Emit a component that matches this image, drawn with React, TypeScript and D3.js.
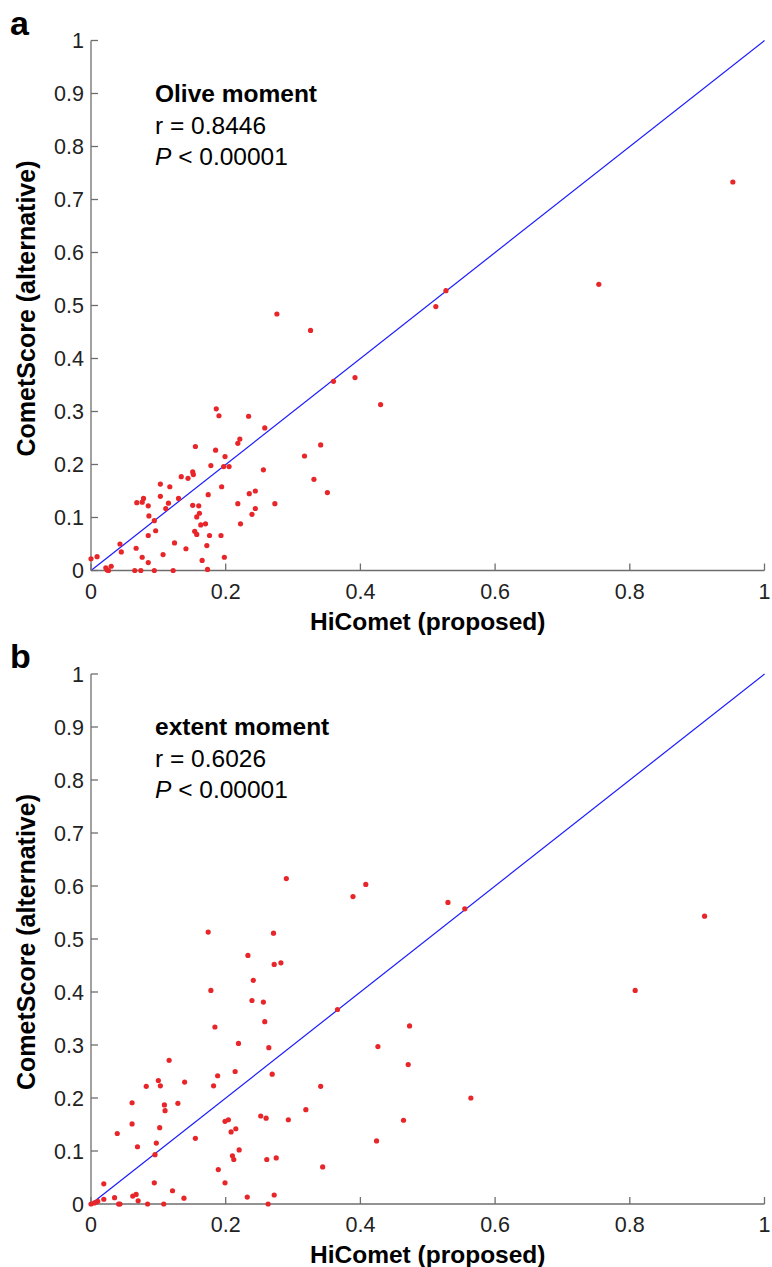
import * as d3 from 'd3';

// panel a: Olive moment
const aHiComet = [
  0.0, 0.009, 0.022, 0.026, 0.03, 0.024, 0.043, 0.045, 0.065, 0.067, 0.074, 0.076, 0.085, 0.094,
  0.068, 0.076, 0.078, 0.085, 0.086, 0.085, 0.094, 0.096, 0.103, 0.103, 0.107, 0.111, 0.115, 0.117,
  0.122, 0.124, 0.13, 0.134, 0.141, 0.144, 0.151, 0.152, 0.151, 0.155, 0.157, 0.16, 0.161, 0.154,
  0.157, 0.163, 0.165, 0.17, 0.174, 0.172, 0.173, 0.176, 0.178, 0.185, 0.186, 0.19, 0.194, 0.193,
  0.197, 0.199, 0.198, 0.205, 0.218, 0.221, 0.218, 0.222, 0.234, 0.235, 0.239, 0.244, 0.244, 0.256,
  0.258, 0.273, 0.276, 0.326, 0.36, 0.392, 0.43, 0.317, 0.341, 0.331, 0.351, 0.953, 0.754, 0.527,
  0.512,
];
const aCometScore = [
  0.022, 0.026, 0.005, 0.0, 0.008, 0.001, 0.05, 0.035, 0.0, 0.042, 0.0, 0.025, 0.015, 0.0,
  0.128, 0.129, 0.136, 0.122, 0.103, 0.066, 0.094, 0.075, 0.163, 0.14, 0.03, 0.117, 0.127, 0.158,
  0.0, 0.052, 0.136, 0.177, 0.041, 0.174, 0.186, 0.181, 0.123, 0.234, 0.101, 0.122, 0.108, 0.074,
  0.068, 0.086, 0.019, 0.088, 0.143, 0.047, 0.002, 0.066, 0.198, 0.227, 0.305, 0.292, 0.158, 0.066,
  0.196, 0.215, 0.025, 0.196, 0.24, 0.248, 0.126, 0.088, 0.291, 0.145, 0.106, 0.117, 0.15, 0.19,
  0.269, 0.126, 0.484, 0.453, 0.357, 0.364, 0.313, 0.216, 0.237, 0.172, 0.147, 0.733, 0.54, 0.528,
  0.498,
];

// panel b: extent moment
const bHiComet = [
  0.0, 0.005, 0.01, 0.019, 0.019, 0.035, 0.039, 0.041, 0.043, 0.061, 0.061, 0.062, 0.067, 0.069,
  0.07, 0.082, 0.084, 0.095, 0.094, 0.097, 0.1, 0.103, 0.102, 0.109, 0.11, 0.108, 0.116, 0.121,
  0.129, 0.138, 0.139, 0.155, 0.184, 0.182, 0.188, 0.189, 0.199, 0.199, 0.204, 0.208, 0.215, 0.214,
  0.219, 0.21, 0.212, 0.22, 0.232, 0.239, 0.256, 0.258, 0.264, 0.269, 0.252, 0.26, 0.261, 0.275,
  0.272, 0.263, 0.293, 0.29, 0.389, 0.408, 0.174, 0.271, 0.233, 0.272, 0.282, 0.241, 0.178, 0.366,
  0.53, 0.555, 0.911, 0.808, 0.473, 0.426, 0.471, 0.341, 0.319, 0.564, 0.464, 0.424, 0.344,
];
const bCometScore = [
  0.0, 0.002, 0.005, 0.038, 0.009, 0.012, 0.133, 0.0, 0.0, 0.191, 0.151, 0.015, 0.018, 0.108,
  0.006, 0.222, 0.0, 0.093, 0.04, 0.115, 0.233, 0.223, 0.144, 0.187, 0.176, 0.0, 0.271, 0.025,
  0.19, 0.011, 0.23, 0.124, 0.334, 0.223, 0.242, 0.065, 0.04, 0.156, 0.159, 0.136, 0.142, 0.25,
  0.303, 0.091, 0.084, 0.102, 0.013, 0.384, 0.381, 0.344, 0.295, 0.245, 0.166, 0.162, 0.084, 0.087,
  0.017, 0.0, 0.159, 0.614, 0.58, 0.603, 0.513, 0.511, 0.469, 0.452, 0.455, 0.422, 0.403, 0.367,
  0.569, 0.557, 0.543, 0.403, 0.336, 0.297, 0.263, 0.222, 0.178, 0.2, 0.158, 0.119, 0.07,
];

const xTicks = [0, 0.2, 0.4, 0.6, 0.8, 1];
const xTickLabels = ['0', '0.2', '0.4', '0.6', '0.8', '1'];
const yTicks = [0, 0.1, 0.2, 0.3, 0.4, 0.5, 0.6, 0.7, 0.8, 0.9, 1];
const yTickLabels = ['0', '0.1', '0.2', '0.3', '0.4', '0.5', '0.6', '0.7', '0.8', '0.9', '1'];

const W = 772;
const H = 1267;
const font = 'Liberation Sans, Arial, Helvetica, sans-serif';

type PanelProps = {
  letter: string;
  title: string;
  r: string;
  xs: number[];
  ys: number[];
  top: number;
};

function Panel({ letter, title, r, xs, ys, top }: PanelProps) {
  const left = 91;
  const right = 764.5;
  const plotH = 530;
  const bottom = top + plotH;
  const x = d3.scaleLinear().domain([0, 1]).range([left, right]);
  const y = d3.scaleLinear().domain([0, 1]).range([bottom, top]);
  const tick = 7;
  const axisColor = '#6e6e6e';

  return (
    <g>
      <text x={10} y={top - 6} fontFamily={font} fontWeight="bold" fontSize={34} fill="#000">
        {letter}
      </text>

      {/* reference diagonal */}
      <line x1={x(0)} y1={y(0)} x2={x(1)} y2={y(1)} stroke="#1a1aff" strokeWidth={1.2} />

      {/* axes */}
      <line x1={left} y1={top} x2={left} y2={bottom} stroke={axisColor} strokeWidth={1.3} />
      <line x1={left} y1={bottom} x2={right} y2={bottom} stroke={axisColor} strokeWidth={1.3} />

      {yTicks.map((t, i) => (
        <g key={`y${t}`}>
          <line x1={left} x2={left + tick} y1={y(t)} y2={y(t)} stroke={axisColor} strokeWidth={1.3} />
          <text
            x={left - 7}
            y={y(t)}
            dy="0.35em"
            textAnchor="end"
            fontFamily={font}
            fontSize={21.5}
            fill="#222"
          >
            {yTickLabels[i]}
          </text>
        </g>
      ))}

      {xTicks.map((t, i) => (
        <g key={`x${t}`}>
          <line x1={x(t)} x2={x(t)} y1={bottom} y2={bottom - tick} stroke={axisColor} strokeWidth={1.3} />
          <text x={x(t)} y={bottom + 28} textAnchor="middle" fontFamily={font} fontSize={21.5} fill="#222">
            {xTickLabels[i]}
          </text>
        </g>
      ))}

      {xs.map((v, i) => (
        <circle key={i} cx={x(v)} cy={y(ys[i])} r={2.6} fill="#e8262a" />
      ))}

      <text
        x={(left + right) / 2}
        y={bottom + 59}
        textAnchor="middle"
        fontFamily={font}
        fontWeight="bold"
        fontSize={24.5}
        fill="#000"
      >
        HiComet (proposed)
      </text>
      <text
        transform={`translate(35,${(top + bottom) / 2 + 3}) rotate(-90)`}
        textAnchor="middle"
        fontFamily={font}
        fontWeight="bold"
        fontSize={25}
        fill="#000"
      >
        CometScore (alternative)
      </text>

      <g fontFamily={font} fontSize={24.5} fill="#000">
        <text x={155} y={top + 61} fontWeight="bold">
          {title}
        </text>
        <text x={155} y={top + 93}>
          r = {r}
        </text>
        <text x={155} y={top + 124}>
          <tspan fontStyle="italic">P</tspan> &lt; 0.00001
        </text>
      </g>
    </g>
  );
}

export default function App() {
  return (
    <svg
      width={W}
      height={H}
      viewBox={`0 0 ${W} ${H}`}
      style={{ position: 'absolute', left: 0, top: 0, background: '#fff' }}
    >
      <rect width={W} height={H} fill="#fff" />
      <Panel letter="a" title="Olive moment" r="0.8446" xs={aHiComet} ys={aCometScore} top={40.5} />
      <Panel letter="b" title="extent moment" r="0.6026" xs={bHiComet} ys={bCometScore} top={674} />
    </svg>
  );
}
